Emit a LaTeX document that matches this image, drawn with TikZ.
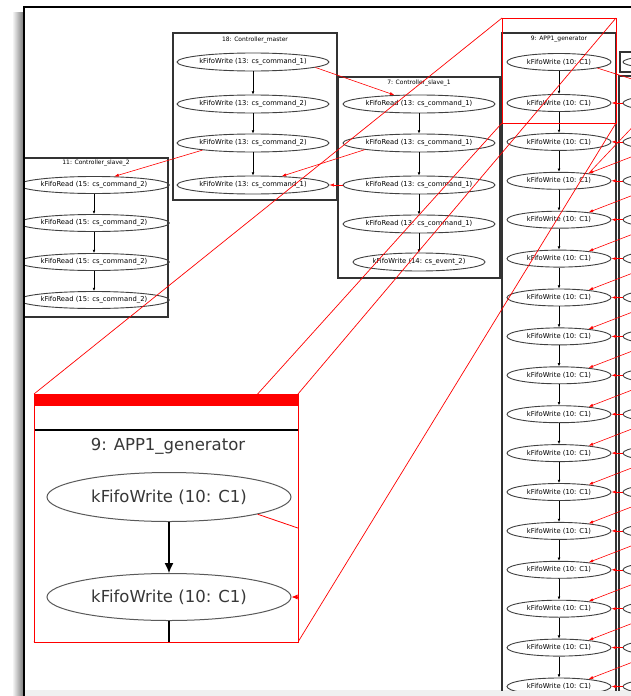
\documentclass[tikz,border=0pt]{standalone}
\usepackage{fontspec}
\setmainfont{DejaVu Sans}
\usetikzlibrary{shapes.geometric,arrows.meta}

\newcommand\nodefont{\fontsize{6.8}{7.5}\selectfont}
\newcommand\titlefont{\fontsize{6}{7}\selectfont}
\newcommand\insetfont{\fontsize{16.5}{19}\selectfont}

\begin{document}
\begin{tikzpicture}[x=1pt,y=-1pt,
  box/.style={draw=black!80,line width=1.2pt},
  cltitle/.style={inner sep=0pt,font=\titlefont,text=black},
  ell/.style={ellipse,draw=black!75,line width=0.9pt,inner sep=0pt,font=\nodefont,text=black},
  mell/.style={ell,minimum width=151pt,minimum height=18pt},
  sell/.style={ell,minimum width=152pt,minimum height=18pt},
  tell/.style={ell,minimum width=138pt,minimum height=17pt},
  aell/.style={ell,minimum width=104pt,minimum height=17pt},
  rell/.style={ell,minimum width=114pt,minimum height=17pt},
  blk/.style={draw=black,line width=0.7pt,-{Latex[length=3.2pt,width=2.8pt]}},
  redarr/.style={draw=red,line width=0.6pt,-{Latex[length=4.5pt,width=3.2pt]}},
  zoomline/.style={draw=red,line width=0.7pt},
  iell/.style={ellipse,draw=black!65,line width=1pt,inner sep=0pt,font=\insetfont,text=black!78,minimum width=244pt},
]
\useasboundingbox (0,0) rectangle (631,696);
\fill[white] (0,0) rectangle (631,696);
% drop shadow on the left of the window and the grey strip at the bottom
\shade[left color=white,right color=black!50] (12,12) rectangle (23,696);
\fill[black!6] (25,690) rectangle (631,696);

\begin{scope}
\clip (25,8) rectangle (631,690);

% ---------- 18: Controller_master ----------
\draw[box] (173,33) rectangle (337,200);
\node[cltitle] (tm) at (255,40) {18: Controller\_master};
\node[mell] (m1) at (253,62)  {kFifoWrite (13: cs\_command\_1)};
\node[mell] (m2) at (253,104) {kFifoWrite (13: cs\_command\_2)};
\node[mell] (m3) at (253,143) {kFifoWrite (13: cs\_command\_2)};
\node[mell] (m4) at (253,185) {kFifoWrite (13: cs\_command\_1)};
\draw[blk] (m1) -- (m2);
\draw[blk] (m2) -- (m3);
\draw[blk] (m3) -- (m4);

% ---------- 7: Controller_slave_1 ----------
\draw[box] (338,77) rectangle (500,278);
\node[cltitle] (ts) at (419,83) {7: Controller\_slave\_1};
\node[sell] (s1) at (419,104) {kFifoRead (13: cs\_command\_1)};
\node[sell] (s2) at (419,143) {kFifoRead (13: cs\_command\_1)};
\node[sell] (s3) at (419,185) {kFifoRead (13: cs\_command\_1)};
\node[sell] (s4) at (419,224) {kFifoRead (13: cs\_command\_1)};
\node[ell,minimum width=132pt,minimum height=18pt] (s5) at (419,262) {kFifoWrite (14: cs\_event\_2)};
\draw[blk] (s1) -- (s2);
\draw[blk] (s2) -- (s3);
\draw[blk] (s3) -- (s4);
\draw[blk] (s4) -- (s5);

% ---------- 11: Controller_slave_2 ----------
\draw[box] (20,158) rectangle (168,317);
\node[cltitle] (tt) at (96,163) {11: Controller\_slave\_2};
\node[tell] (t1) at (94,185) {kFifoRead (15: cs\_command\_2)};
\node[tell] (t2) at (94,223) {kFifoRead (15: cs\_command\_2)};
\node[tell] (t3) at (94,262) {kFifoRead (15: cs\_command\_2)};
\node[tell] (t4) at (94,300) {kFifoRead (15: cs\_command\_2)};
\draw[blk] (t1) -- (t2);
\draw[blk] (t2) -- (t3);
\draw[blk] (t3) -- (t4);

% ---------- 9: APP1_generator ----------
\draw[box] (502,33) rectangle (616,720);
\node[cltitle] (ta) at (559,39) {9: APP1\_generator};
\node[aell] (a1) at (559,62) {kFifoWrite (10: C1)};
\foreach \k in {2,...,17} {
  \pgfmathsetmacro\yy{103+(\k-2)*38.9}
  \node[aell] (a\k) at (559,\yy) {kFifoWrite (10: C1)};
}
\foreach \k [remember=\k as \p (initially 1)] in {2,...,17}
  \draw[blk] (a\p) -- (a\k);

% neighbouring cluster on the right
\draw[box] (620,52) rectangle (700,72);
\node[rell,minimum height=14pt] (r1) at (680,62) {};
\draw[box] (619,76) rectangle (720,720);
\foreach \k in {2,...,17} {
  \pgfmathsetmacro\yy{103+(\k-2)*38.9}
  \node[rell] (r\k) at (680,\yy) {};
  \draw[redarr] (r\k) -- (a\k);
}
% channels arriving from further right
\foreach \k in {4,...,17} {
  \pgfmathsetmacro\yy{103+(\k-2)*38.9}
  \coordinate (d\k) at (660,\yy-35);
  \draw[redarr] (d\k) -- (a\k.14);
}
\coordinate (d0) at (660,98);
\draw[draw=red,line width=0.6pt] (d0) -- (a4.14);
\coordinate (aout) at (660,88);
\draw[draw=red,line width=0.6pt] (a1.-9) -- (aout);

% channels between the controllers
\draw[redarr] (m1.-5) -- (s1.160);
\draw[redarr] (s2.-173) -- (m4.17);
\draw[redarr] (s3) -- (m4);
\draw[redarr] (m3.-172) -- (t1.23);

% ---------- magnified view ----------
\coordinate (zTL) at (502,18);
\coordinate (zTR) at (616,18);
\coordinate (zBL) at (502,123);
\coordinate (zBR) at (616,123);
\coordinate (iTL) at (34,394);
\coordinate (iTR) at (298,394);
\coordinate (iBL) at (34,642);
\coordinate (iBR) at (298,642);
\draw[zoomline] (zTL) -- (iTL) (zTR) -- (iTR) (zBL) -- (iBL) (zBR) -- (iBR);
\draw[red,line width=0.9pt] (zTL) rectangle (zBR);
\fill[white] (iTL) rectangle (iBR);
\begin{scope}
  \clip (iTL) rectangle (iBR);
  \fill[red] (34,394) rectangle (298,406);
  \draw[line width=1.8pt] (34,430) -- (298,430);
  \node[inner sep=0pt,font=\insetfont,text=black!78] (it) at (168,446) {9: APP1\_generator};
  \node[iell,minimum height=49pt] (i1) at (169,497) {kFifoWrite (10: C1)};
  \node[iell,minimum height=47pt] (i2) at (169,597) {kFifoWrite (10: C1)};
  \draw[line width=1.1pt,-{Latex[length=10pt,width=9pt]}] (i1) -- (i2);
  \coordinate (ibot) at (169,660);
  \draw[line width=1.1pt] (i2) -- (ibot);
  \coordinate (iout) at (330,539);
  \draw[red,line width=0.8pt] (i1.-11) -- (iout);
  \coordinate (iin) at (330,597);
  \draw[red,line width=0.8pt,-{Latex[length=6pt,width=5pt]}] (iin) -- (i2);
\end{scope}
\draw[red,line width=0.9pt] (iTL) rectangle (iBR);
\end{scope}

% window border
\draw[line width=2pt] (24,696) -- (24,7) -- (631,7);
\end{tikzpicture}
\end{document}
